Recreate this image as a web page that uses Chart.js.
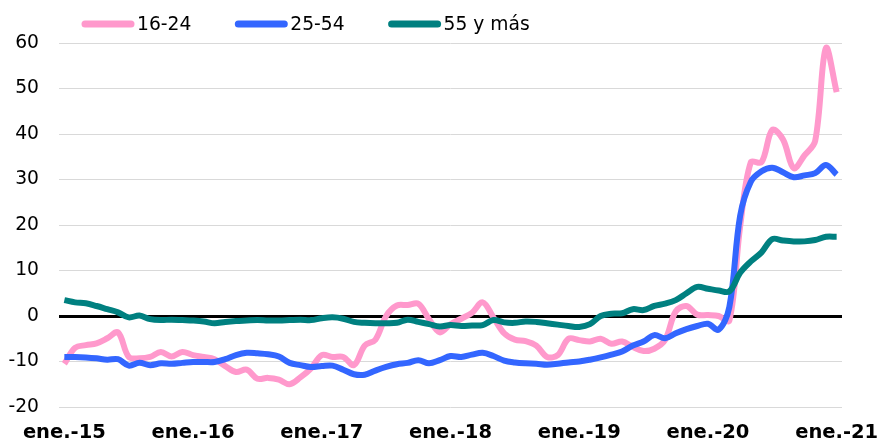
<!DOCTYPE html>
<html>
<head>
<meta charset="utf-8">
<script src="https://cdn.jsdelivr.net/npm/chart.js@4/dist/chart.umd.min.js"></script>
<style>
  body { margin: 0; background: #fff; }
  #wrap { width: 879px; height: 441px; position: relative; }
</style>
</head>
<body>
<div id="wrap"><canvas id="lineChartContainer"></canvas></div>
<script>
// Datos mensuales, ene.-15 a ene.-21
const meses = ['ene', 'feb', 'mar', 'abr', 'may', 'jun', 'jul', 'ago', 'sep', 'oct', 'nov', 'dic'];
const anios = ['15', '16', '17', '18', '19', '20', '21'];

const jovenes = [
    -10.5, -7.0, -6.4, -6.0, -4.9, -3.6, -9.0, -9.3, -9.0, -7.9, -8.9, -7.9,
    -8.6, -9.0, -9.5, -11.0, -12.3, -11.8, -13.8, -13.6, -14.0, -15.0, -13.5, -11.5,
    -8.6, -9.0, -9.0, -10.8, -6.5, -5.2, 0.0, 2.3, 2.4, 2.7, -0.7, -3.6,
    -1.8, -0.6, 0.7, 3.0, -0.3, -3.8, -5.2, -5.5, -6.5, -9.0, -8.6, -5.0,
    -5.3, -5.6, -5.0, -6.1, -5.6, -6.8, -7.7, -7.2, -5.3, 1.0, 2.2, 0.3,
    0.2, 0.0, -1.0, 19.6, 33.8, 33.8, 40.9, 38.8, 32.5, 35.3, 38.5, 58.9,
    49.2
];
const adultos = [
    -9.0, -9.0, -9.1, -9.3, -9.6, -9.5, -10.9, -10.3, -10.8, -10.4, -10.5, -10.3,
    -10.1, -10.1, -10.1, -9.5, -8.6, -8.1, -8.2, -8.4, -8.9, -10.3, -10.8, -11.2,
    -11.0, -10.9, -11.8, -12.8, -12.9, -12.0, -11.2, -10.6, -10.3, -9.7, -10.4, -9.7,
    -8.8, -9.0, -8.5, -8.1, -8.8, -9.8, -10.2, -10.4, -10.5, -10.7, -10.5, -10.2,
    -10.0, -9.6, -9.1, -8.5, -7.8, -6.5, -5.6, -4.2, -4.9, -3.8, -2.9, -2.2,
    -1.7, -3.0, 2.0, 22.0, 29.5, 31.8, 32.6, 31.6, 30.5, 30.9, 31.4, 33.2,
    31.1
];
const mayores = [
    3.5, 3.0, 2.8, 2.2, 1.5, 0.8, -0.3, 0.1, -0.7, -0.9, -0.8, -0.9,
    -1.0, -1.2, -1.6, -1.3, -1.1, -1.0, -0.9, -1.0, -1.0, -0.9, -0.8, -0.9,
    -0.5, -0.3, -0.6, -1.3, -1.5, -1.6, -1.6, -1.5, -0.8, -1.3, -1.8, -2.3,
    -2.0, -2.2, -2.1, -2.0, -0.9, -1.4, -1.5, -1.2, -1.3, -1.6, -1.9, -2.2,
    -2.4, -1.8, 0.0, 0.5, 0.6, 1.5, 1.3, 2.2, 2.7, 3.5, 5.0, 6.4,
    6.0, 5.6, 5.4, 9.5, 12.0, 14.0, 16.9, 16.6, 16.4, 16.4, 16.7, 17.4,
    17.4
];

const etiquetas = [];
anios.forEach(a => meses.forEach(m => etiquetas.push(m + '.-' + a)));
etiquetas.length = jovenes.length;

const fuente = 'DejaVu Sans, Verdana, sans-serif';

// leyenda dibujada a mano para colocarla como en el original
const leyenda = {
    id: 'leyenda',
    afterDraw(chart) {
        const ctx = chart.ctx;
        ctx.save();
        ctx.font = '18.7px ' + fuente;
        ctx.textBaseline = 'middle';
        let x = 82;
        const y = 24;
        chart.data.datasets.forEach(ds => {
            ctx.strokeStyle = ds.borderColor;
            ctx.lineWidth = 7;
            ctx.lineCap = 'round';
            ctx.beginPath();
            ctx.moveTo(x + 3, y);
            ctx.lineTo(x + 49, y);
            ctx.stroke();
            ctx.fillStyle = '#000';
            ctx.fillText(ds.label, x + 55, y + 1);
            x += 55 + ctx.measureText(ds.label).width + 44;
        });
        ctx.restore();
    }
};

const ctxLineChart = document.getElementById('lineChartContainer').getContext('2d');

const lineChart = new Chart(ctxLineChart, {
    type: 'line',
    data: {
        labels: etiquetas,
        datasets: [
            {
                label: '16-24',
                data: jovenes,
                borderColor: '#ff99cc',
                borderWidth: 6,
                pointRadius: 0,
                tension: 0.35,
                order: 2
            },
            {
                label: '25-54',
                data: adultos,
                borderColor: '#3366ff',
                borderWidth: 6,
                pointRadius: 0,
                tension: 0.35,
                order: 1
            },
            {
                label: '55 y más',
                data: mayores,
                borderColor: '#008080',
                borderWidth: 6,
                pointRadius: 0,
                tension: 0.35,
                order: 0
            }
        ]
    },
    options: {
        responsive: true,
        maintainAspectRatio: false,
        animation: false,
        layout: { padding: { top: 43, right: 37, left: 0, bottom: 0 } },
        plugins: {
            legend: { display: false },
            tooltip: { enabled: false }
        },
        scales: {
            x: {
                offset: true,
                grid: { display: false, drawTicks: false },
                border: { display: false },
                ticks: {
                    autoSkip: false,
                    maxRotation: 0,
                    padding: 14,
                    color: '#000',
                    font: { family: fuente, size: 19.5, weight: 'bold' },
                    callback: function (v, i) { return i % 12 === 0 ? this.getLabelForValue(v) : ''; }
                },
                afterFit: s => { s.height = 34; s.paddingLeft = 0; s.paddingRight = 0; }
            },
            y: {
                min: -20,
                max: 60,
                grid: {
                    drawTicks: false,
                    color: c => c.tick && c.tick.value === 0 ? '#000' : '#d9d9d9',
                    lineWidth: c => c.tick && c.tick.value === 0 ? 3 : 1
                },
                border: { display: false },
                ticks: {
                    stepSize: 10,
                    padding: 20,
                    color: '#000',
                    font: { family: fuente, size: 18.7 }
                },
                afterFit: s => { s.width = 59; s.paddingTop = 0; s.paddingBottom = 0; }
            }
        }
    },
    plugins: [leyenda]
});
</script>
</body>
</html>
